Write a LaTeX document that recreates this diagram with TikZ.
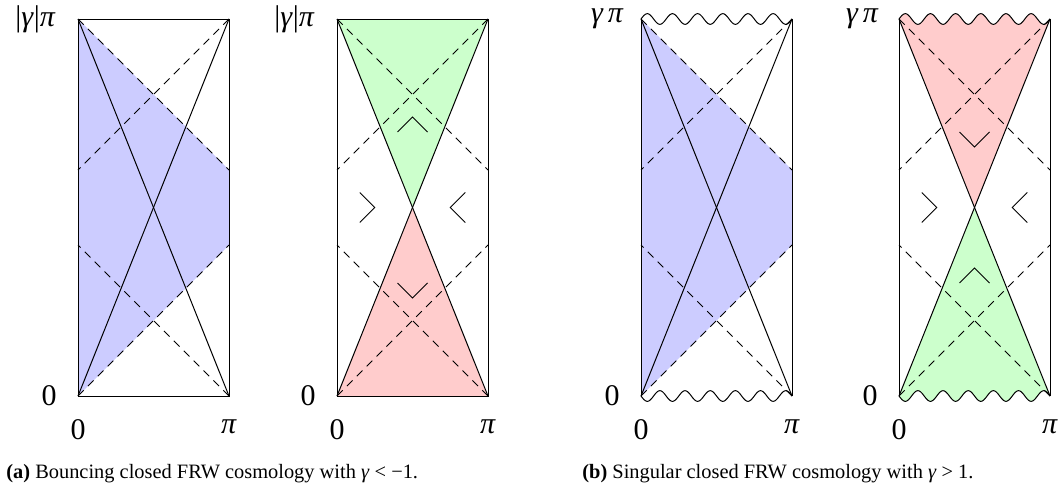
\documentclass[tikz,border=0pt]{standalone}
\usepackage{fontspec}
\setmainfont{Liberation Serif}
\newcommand{\pnldashes}{%
  \draw[dashln] (0,19) -- (151,170);
  \draw[dashln] (151,19) -- (0,170);
  \draw[dashln] (0,396) -- (151,245);
  \draw[dashln] (151,396) -- (0,245);}
\newcommand{\pnldiag}{%
  \draw[thinln] (0,19) -- (151,396);
  \draw[thinln] (151,19) -- (0,396);}
\newcommand{\pnlsidechev}{%
  \draw[thinln] (22.75,192.5) -- (37.75,207.5) -- (22.75,222.5);
  \draw[thinln] (128.25,192.5) -- (113.25,207.5) -- (128.25,222.5);}
\newcommand{\wavetop}{plot[domain=0:151,samples=241] (\x,{19-5.3*sin(14.30464*\x)})}
\newcommand{\wavebot}{plot[domain=0:151,samples=241] (\x,{396+5.3*sin(14.30464*\x)})}
\begin{document}
\begin{tikzpicture}[x=0.5pt,y=-0.5pt,
  thinln/.style={line width=0.5pt},
  dashln/.style={line width=0.5pt, dash pattern=on 4pt off 3pt},
  bluefill/.style={fill=blue!20},
  greenfill/.style={fill=green!20},
  redfill/.style={fill=red!20},
  axlab/.style={inner sep=0pt, font=\fontsize{15}{17}\selectfont},
  captxt/.style={inner sep=0pt, anchor=base west, font=\fontsize{10.2}{12}\selectfont}]
\useasboundingbox (0,0) rectangle (1058,498);

% ---------- panel 1 ----------
\begin{scope}[shift={(78,0)}]
  \fill[bluefill] (0,19) -- (151,170) -- (151,245) -- (0,396) -- cycle;
  \pnldashes
  \pnldiag
  \draw[thinln] (0,19) rectangle (151,396);
  \node[axlab, anchor=east] (p1t) at (-22,19) {|\textit{γ}|\textit{π}};
  \node[axlab, anchor=east] (p1l) at (-21,396) {0};
  \node[axlab, anchor=north] (p1b) at (0,419) {0};
  \node[axlab, anchor=north] (p1r) at (151,419) {\textit{π}};
\end{scope}

% ---------- panel 2 ----------
\begin{scope}[shift={(337,0)}]
  \fill[greenfill] (0,19) -- (151,19) -- (75.5,207.5) -- cycle;
  \fill[redfill] (0,396) -- (151,396) -- (75.5,207.5) -- cycle;
  \pnldashes
  \pnldiag
  \draw[thinln] (0,19) rectangle (151,396);
  \draw[thinln] (60.5,132) -- (75.5,117) -- (90.5,132);
  \draw[thinln] (60.5,283) -- (75.5,298) -- (90.5,283);
  \pnlsidechev
  \node[axlab, anchor=east] (p2t) at (-22,19) {|\textit{γ}|\textit{π}};
  \node[axlab, anchor=east] (p2l) at (-21,396) {0};
  \node[axlab, anchor=north] (p2b) at (0,419) {0};
  \node[axlab, anchor=north] (p2r) at (151,419) {\textit{π}};
\end{scope}

% ---------- panel 3 ----------
\begin{scope}[shift={(641,0)}]
  \fill[bluefill] (0,19) -- (151,170) -- (151,245) -- (0,396) -- cycle;
  \pnldashes
  \pnldiag
  \draw[thinln] (0,19) -- (0,396);
  \draw[thinln] (151,19) -- (151,396);
  \draw[thinln] \wavetop;
  \draw[thinln] \wavebot;
  \node[axlab, anchor=east] (p3t) at (-17,19) {\textit{γ\,π}};
  \node[axlab, anchor=east] (p3l) at (-21,396) {0};
  \node[axlab, anchor=north] (p3b) at (0,419) {0};
  \node[axlab, anchor=north] (p3r) at (151,419) {\textit{π}};
\end{scope}

% ---------- panel 4 ----------
\begin{scope}[shift={(899,0)}]
  \fill[redfill] \wavetop -- (75.5,207.5) -- cycle;
  \fill[greenfill] \wavebot -- (75.5,207.5) -- cycle;
  \pnldashes
  \pnldiag
  \draw[thinln] (0,19) -- (0,396);
  \draw[thinln] (151,19) -- (151,396);
  \draw[thinln] \wavetop;
  \draw[thinln] \wavebot;
  \draw[thinln] (60.5,132) -- (75.5,147) -- (90.5,132);
  \draw[thinln] (60.5,283) -- (75.5,268) -- (90.5,283);
  \pnlsidechev
  \node[axlab, anchor=east] (p4t) at (-20,19) {\textit{γ\,π}};
  \node[axlab, anchor=east] (p4l) at (-21,396) {0};
  \node[axlab, anchor=north] (p4b) at (0,419) {0};
  \node[axlab, anchor=north] (p4r) at (151,419) {\textit{π}};
\end{scope}

% ---------- captions ----------
\node[captxt] (capa) at (6,478) {\textbf{(a)} Bouncing closed FRW cosmology with \textit{γ} < −1.};
\node[captxt] (capb) at (582,478) {\textbf{(b)} Singular closed FRW cosmology with \textit{γ} > 1.};
\end{tikzpicture}
\end{document}
